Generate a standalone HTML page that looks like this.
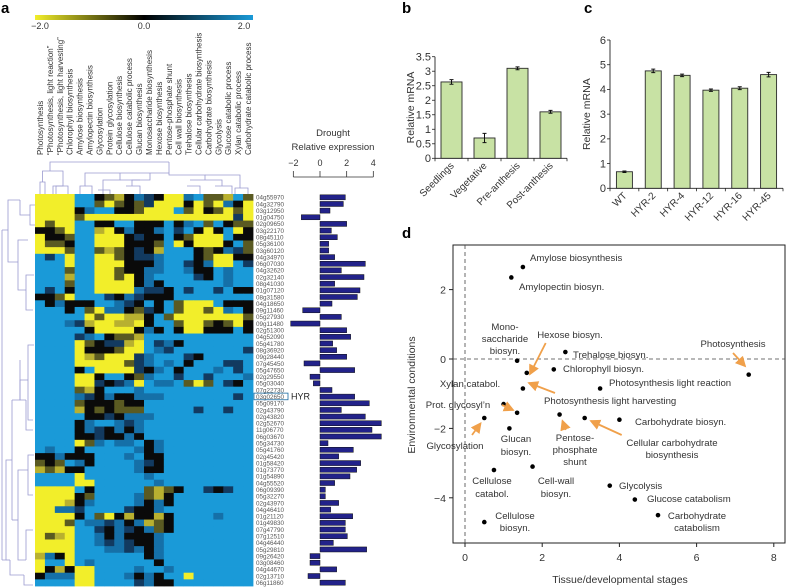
<!DOCTYPE html>
<html><head><meta charset="utf-8">
<style>
html,body{margin:0;padding:0;background:#fff;}
svg{display:block;font-family:"Liberation Sans",sans-serif;}
</style></head>
<body>
<svg id="fig" width="788" height="588" viewBox="0 0 788 588" xmlns="http://www.w3.org/2000/svg">
<defs>
<linearGradient id="cb" x1="0" x2="1" y1="0" y2="0">
<stop offset="0" stop-color="#f2ee2a"/><stop offset="0.5" stop-color="#000"/><stop offset="1" stop-color="#1a9ad8"/>
</linearGradient>
<marker id="ah" markerWidth="6" markerHeight="6" refX="5" refY="3" orient="auto"><path d="M0,0 L6,3 L0,6 z" fill="#f0a04a"/></marker>
</defs>
<g font-weight="bold" font-size="15" fill="#000">
<text x="1" y="13">a</text>
<text x="402" y="13">b</text>
<text x="584" y="13">c</text>
<text x="402" y="238">d</text>
</g>
<g>
<rect x="35" y="15" width="218" height="5" fill="url(#cb)"/>
<g font-size="9" fill="#333" text-anchor="middle">
<text x="40" y="29">−2.0</text>
<text x="144" y="29">0.0</text>
<text x="244" y="29">2.0</text>
</g></g>
<g id="heat"></g>
<g id="dendro" stroke="#9a9ad0" stroke-width="0.8" fill="none"></g>
<g id="drought"></g>
<g id="pb"></g>
<g id="pc"></g>
<g id="pd"></g>
</svg>
<script>
const NS="http://www.w3.org/2000/svg";
function mk(tag,attrs,parent,txt){const e=document.createElementNS(NS,tag);for(const k in attrs)e.setAttribute(k,attrs[k]);if(txt!==undefined)e.textContent=txt;parent.appendChild(e);return e;}

// ---------- Panel a data ----------
const heatColumns=["Photosynthesis","\u201cPhotosynthesis, light reaction\u201d","\u201cPhotosynthesis, light harvesting\u201d","Chlorophyll biosynthesis","Amylose biosynthesis","Amylopectin biosynthesis","Glycosylation","Protein glycosylation","Cellulose biosynthesis","Cellulose catabolic process","Glucan biosynthesis","Monosaccharide biosynthesis","Hexose biosynthesis","Pentose-phosphate shunt","Cell wall biosynthesis","Trehalose biosynthesis","Cellular carbohydrate biosynthesis","Carbohydrate biosynthesis","Glycolysis","Glucose catabolic process","Xylan catabolic process","Carbohydrate catabolic process"];
const heatGenes=["04g55970","04g32790","03g12950","01g04750","02g09650","03g22170","08g45110","05g36100","03g60120","04g34970","06g07030","04g32620","02g32140","08g41030","01g07120","08g31580","04g18650","09g11460","05g27930","09g11480","02g51300","04g52090","05g41780","08g36920","09g28440","07g45450","05g47650","02g29550","05g03040","07g22730","03g02650","05g09170","02g43790","02g43820","02g52670","11g06770","06g03670","05g34730","05g41760","02g45420","01g58420","01g73770","01g54890","04g55520","06g09390","05g32270","02g43970","04g46410","01g21120","01g49830","07g47790","07g12510","04g46440","05g29810","09g26420","03g08460","04g44670","02g13710","06g11860"];
const heatRows=["YYYYBBkoykbnkYYbBooyBo","YYYYBBoYokonYYYkYoYbkY","YYYYkbBBkkoYYYBoYkoYoY","YYYYoYYYYYYYYYYYYYYYnY","YoYYBBkkBBkkkBkbBoBkoo","kkoYBByYkbkkbBnBkYkBYk","YkkoBBYYYknkkBkoYYYBkk","YookBBYYYkkkoBYkYYYkBo","YYYoBBoyoknkyBBBkokbno","BnBYBBYYoknnbBBBkoYYkk","BBBYBBYYYkkkbBBnkbYYBn","BBBoBBYYokkbbBBbkkBbBB","BBByBBYYoYkbBBBBnkBbBB","BBBoBBYYYYkbkBBBBBBbBB","BnBkBBYYYYbnnkBnBBnBkk","kkoYBBBnkbnkkkBBBBBBBB","BkbkkkBBbnkBkBoYYYBkkk","BBBkBoYbbkonkBoYYoYbBk","BBBBBYoYYyykBoYYYYYYYo","BBBbnyYYyyYkBBoYYokoYk","BBBBBkYYYYkbkBkYYkkkBk","BBBBnbBkooyBBBBBBBBBBB","BBBBYoknnyYBnbkBBBBBBB","BBBBYkkkoYYBbnBBBBBBBn","BBBBYyoYYYnbBBBnkBBBBB","BBBBYYYYYonbBbBkBBBnnB","BBBBkBYYYYnkbBkBBBbBnB","BBBBYYkBBkobBBnBBnBBBb","BBBBYYnknbYBbbBoYoBnkB","BBBBoykBBBbBBBBBBBBBBB","BBBBbnkbkkbbbBBBBBBBnB","BBBBokkkokkBBBBBBBBBBB","BBBBykokoooBBBBBnBBnBB","BBBBBkknkbbbBBBBBBBBBB","BBBBkbBBbnbBBBBBBBBBBB","BBBBkbnkbkbBBBBBBBBBBB","BBBBkknkkbkBBBBBBBBBBB","BBBBYobBbbBkbBBBBBBBBB","BbBBkBBBBBbkbBBBBBBBBB","kkbkkkBBBbBkkBBBBBBBBB","okoBbkBBBBbnkBBBBBBBBB","yoykkBBBBBbkkBBBBBBBBB","BBBBYBBBBBBbBBBBBBBBBB","BBBBYYBBBBBBbBBBBBBBBB","YYYYBkBBBBBoyokBBnknBB","YYYYkoBBBBboykBBBBBBBB","YYYykbBBBBbkbkBBBBBBBB","YYbbnBBBBnkkbBBBBBBBBB","YYYYkBoYkykkykBBBBbBBB","YYYoBbbnbkbyokBBBBBBBB","YYYYBBnkbnkbokBBBBBBBB","YoyYBBbkbkkkbBBBBBBBBB","YYYYBBbnbnkkbBBBBBBBBB","YYYYBBBbbnbkbBBBBBBBBB","ybkYBBBBBBBkbBBBBBBBBB","YBBYBbBBBBBBkBBBBBBBBB","YkykYYBBBBbBBbBBBBBBBB","kbbbYYBBBbkbkBBYBBBBBB","BBBBYYBBBBnbkkBBBBBBBB"];
const droughtValues=[1.9,1.75,0.75,-1.4,2.0,0.85,1.3,0.65,0.65,1.1,3.4,1.6,3.3,1.1,3.0,2.8,0.9,-1.3,1.6,-2.2,2.0,2.3,0.95,1.25,2.0,-1.2,2.6,-0.75,-0.5,0.9,2.6,3.7,1.6,3.4,4.6,3.9,4.6,0.6,2.5,1.4,3.05,2.75,2.25,1.1,0.4,0.4,1.4,0.8,2.45,1.9,1.9,2.05,1.0,3.5,-0.75,-0.75,1.25,-0.9,1.9];
const droughtTicks=[-2,0,2,4];
const colorMap={Y:"#f2ee2a",y:"#b8b030",o:"#5a5a22",k:"#0a0a0a",n:"#123a60",b:"#1570a8",B:"#1a9ad8"};

// ---------- Panel b/c/d data ----------
const bCats=["Seedlings","Vegetative","Pre-anthesis","Post-anthesis"];
const bVals=[2.63,0.70,3.10,1.60];
const bErr=[0.08,0.16,0.05,0.05];
const bTicks=[0,0.5,1,1.5,2,2.5,3,3.5];
const bTickLabels=["0","0.5","1","1.5","2","2.5","3","3.5"];
const cCats=["WT","HYR-2","HYR-4","HYR-12","HYR-16","HYR-45"];
const cVals=[0.67,4.75,4.57,3.97,4.05,4.60];
const cErr=[0.03,0.07,0.05,0.05,0.06,0.09];
const cTicks=[0,1,2,3,4,5,6];
const dX=[1.5,1.2,1.35,1.6,2.6,2.3,3.5,7.35,1.5,1.0,1.35,0.5,1.15,2.45,3.1,4.0,0.75,1.75,3.75,4.4,5.0,0.5];
const dY=[2.65,2.35,-0.05,-0.4,0.2,-0.3,-0.85,-0.45,-0.85,-1.3,-1.55,-1.7,-2.0,-1.6,-1.7,-1.75,-3.2,-3.1,-3.65,-4.05,-4.5,-4.7];
const dXTicks=[0,2,4,6,8];
const dYTicks=[2,0,-2,-4];

// ---------- Heatmap ----------
const heat=document.getElementById('heat');
const hx0=35,hy0=194,cw=218/22,rh=392/59;
heatRows.forEach((row,r)=>{
  [...row].forEach((ch,c)=>{
    const cell=mk('rect',{x:(hx0+c*cw).toFixed(2),y:(hy0+r*rh).toFixed(2),width:(cw+0.4).toFixed(2),height:(rh+0.4).toFixed(2),fill:colorMap[ch]},heat);
    
    
  });
  const t=mk('text',{x:256,y:(hy0+r*rh+rh*0.85).toFixed(2),'font-size':6.3,fill:'#555'},heat,heatGenes[r]);
  
  
});
heatColumns.forEach((name,c)=>{
  const x=hx0+c*cw+cw/2+3;
  const t=mk('text',{x:x,y:155,'font-size':8,fill:'#333','text-anchor':'start',transform:`rotate(-90 ${x} 155)`},heat,name);
  
  
});
{const r=30;
const bx=mk('rect',{x:254,y:(hy0+r*rh-0.2).toFixed(2),width:34,height:rh.toFixed(2),fill:'none',stroke:'#1a6aa0','stroke-width':0.8},heat);


const ht=mk('text',{x:291,y:(hy0+r*rh+rh-0.5).toFixed(2),'font-size':9,fill:'#222'},heat,'HYR');

}

// ---------- Dendrograms (approximate) ----------
const dg=document.getElementById('dendro');
const topD=["M40,194V182H45V194","M42.5,182V171H63V186H56V194","M53,194V186H68V194","M50,171V162H169","M169,162V173H85V186H80V194","M85,186H92V194","M120,173V180H103V190","M103,190V194M98,190H110V194","M150,173V180H132V186","M126,186H140V194","M120,180H140","M169,173V175H205V180","M190,180H222V186","M187,186H200V194","M215,186H232V194","M205,175H240V188H235V194","M240,188H248V194"];
topD.forEach(d=>{const p=mk('path',{d:d},dg);});
const leftD=["M2,230V560","M2,230H8V200H20","M8,230V262H18","M2,560H6V460H12","M6,560V560H10","M12,400V520","M12,400H20V380H28","M12,520H18","M18,490V560H26","M10,560V575H24","M20,360V400H26","M20,200V215H30","M18,262V240H28","M18,262V290H26","M26,290V275H34","M26,290V310H33","M28,380V345H34","M28,380V420H33","M26,400V430H33","M18,490V470H28","M26,560V530H33","M24,575V585H33","M28,470V455H34","M28,470V495H33","M30,215V205H35","M30,215V225H35"];
leftD.forEach(d=>{const p=mk('path',{d:d},dg);});

// ---------- Drought bars ----------
const dr=document.getElementById('drought');
const dsx=v=>320+v*13.33;
{const tt=mk('text',{x:333,y:136,'font-size':9.5,fill:'#333','text-anchor':'middle'},dr,'Drought');
const t2=mk('text',{x:333,y:150,'font-size':9.5,fill:'#333','text-anchor':'middle'},dr,'Relative expression');
const ax=mk('line',{x1:dsx(-2),x2:dsx(4),y1:177,y2:177,stroke:'#333','stroke-width':0.8},dr);}
droughtTicks.forEach(v=>{
  const l=mk('line',{x1:dsx(v),x2:dsx(v),y1:171,y2:177,stroke:'#333','stroke-width':0.8},dr);
  
  const t=mk('text',{x:dsx(v),y:166,'font-size':9,fill:'#333','text-anchor':'middle'},dr,v<0?'−'+Math.abs(v):String(v));
  
});
droughtValues.forEach((v,r)=>{
  const x1=Math.min(dsx(0),dsx(v)),w=Math.abs(dsx(v)-dsx(0));
  const b=mk('rect',{x:x1,y:(hy0+r*rh+0.8).toFixed(2),width:w.toFixed(2),height:(rh-1.6).toFixed(2),fill:'#22228a',stroke:'#111','stroke-width':0.5},dr);
  
});

// ---------- Bar chart helper ----------
function barChart(gid,cats,vals,errs,ticks,tickLabels,ymax,x0,x1,y0,yTop,bw,labelX){
  const g=document.getElementById(gid);
  const sy=v=>y0-(v/ymax)*(y0-yTop);
  const ya=mk('line',{x1:x0,x2:x0,y1:sy(ymax),y2:y0,stroke:'#222','stroke-width':0.9},g);
  const xa=mk('line',{x1:x0,x2:x1,y1:y0,y2:y0,stroke:'#222','stroke-width':0.9},g);
  ticks.forEach((v,i)=>{
    const l=mk('line',{x1:x0-3,x2:x0,y1:sy(v),y2:sy(v),stroke:'#222','stroke-width':0.8},g);
    const t=mk('text',{x:x0-4,y:sy(v)+3.8,'font-size':11,fill:'#333','text-anchor':'end'},g,tickLabels[i]);
  });
  const n=cats.length, step=(x1-x0)/n;
  for(let i=0;i<=n;i++){const l=mk('line',{x1:x0+i*step,x2:x0+i*step,y1:y0,y2:y0+3,stroke:'#222','stroke-width':0.8},g);}
  cats.forEach((c,i)=>{
    const cx=x0+step*(i+0.5);
    const b=mk('rect',{x:cx-bw/2,y:sy(vals[i]),width:bw,height:y0-sy(vals[i]),fill:'#c8e2a4',stroke:'#2a2a2a','stroke-width':0.9},g);
    
    const e1=sy(vals[i]+errs[i]),e2=sy(vals[i]-errs[i]);
    const e=mk('path',{d:`M${cx},${e1}V${e2}M${cx-2},${e1}H${cx+2}M${cx-2},${e2}H${cx+2}`,stroke:'#111','stroke-width':1,fill:'none'},g);
    
    const tx=cx+3,ty=y0+8;
    const t=mk('text',{x:tx,y:ty,'font-size':10,fill:'#333','text-anchor':'end',transform:`rotate(-45 ${tx} ${ty})`},g,c);
    
  });
  const yt=mk('text',{x:labelX,y:(y0+yTop)/2,'font-size':10.5,fill:'#333','text-anchor':'middle',transform:`rotate(-90 ${labelX} ${(y0+yTop)/2})`},g,'Relative mRNA');
  
}
barChart('pb',bCats,bVals,bErr,bTicks,bTickLabels,3.5,435,567,158.3,56.7,21,414);
barChart('pc',cCats,cVals,cErr,cTicks,cTicks.map(String),6,610,783,188.3,40,16,590);

// ---------- Panel d ----------
const pd=document.getElementById('pd');
const dxs=v=>465+v*38.6, dys=v=>359-v*34.7;
{const box=mk('rect',{x:453,y:245,width:332,height:298,fill:'none',stroke:'#222','stroke-width':1},pd);
const v0=mk('line',{x1:dxs(0),x2:dxs(0),y1:245,y2:543,stroke:'#444','stroke-width':0.8,'stroke-dasharray':'4,3'},pd);
const h0=mk('line',{x1:453,x2:785,y1:dys(0),y2:dys(0),stroke:'#444','stroke-width':0.8,'stroke-dasharray':'4,3'},pd);}
dXTicks.forEach(v=>{
  const l=mk('line',{x1:dxs(v),x2:dxs(v),y1:543,y2:547,stroke:'#222'},pd);
  const t=mk('text',{x:dxs(v),y:561,'font-size':10.5,fill:'#333','text-anchor':'middle'},pd,String(v));
});
dYTicks.forEach(v=>{
  const l=mk('line',{x1:449,x2:453,y1:dys(v),y2:dys(v),stroke:'#222'},pd);
  const t=mk('text',{x:446,y:dys(v)+4,'font-size':10.5,fill:'#333','text-anchor':'end'},pd,v<0?'−'+Math.abs(v):String(v));
});
{const xt=mk('text',{x:620,y:583,'font-size':10.5,fill:'#333','text-anchor':'middle'},pd,'Tissue/developmental stages');
const yt=mk('text',{x:415,y:395,'font-size':10.5,fill:'#333','text-anchor':'middle',transform:'rotate(-90 415 395)'},pd,'Environmental conditions');}
dX.forEach((x,i)=>{
  const c=mk('circle',{cx:dxs(x),cy:dys(dY[i]),r:2.3,fill:'#000'},pd);
  
});
const arrows=[[545.7,343,530,374],[555,393,529,383],[502,405,513,410],[472,435,480.5,423.5],[565.7,430,562.5,421],[621.7,435,591,421],[733,353,745,366]];
arrows.forEach(a=>{
  const l=mk('line',{x1:a[0],y1:a[1],x2:a[2],y2:a[3],stroke:'#f0a04a','stroke-width':1.8,'marker-end':'url(#ah)'},pd);
  
});
const labs=[["Amylose biosynthesis",530,261,"start"],["Amylopectin biosyn.",519,290,"start"],["Mono-",505,330,"middle"],["saccharide",505,342,"middle"],["biosyn.",505,354,"middle"],["Hexose biosyn.",570,338,"middle"],["Trehalose biosyn.",573,358,"start"],["Chlorophyll biosyn.",563,372,"start"],["Photosynthesis light reaction",609,386,"start"],["Photosynthesis",733,347,"middle"],["Xylan catabol.",470,387,"middle"],["Photosynthesis light harvesting",544,404,"start"],["Prot. glycosyl\u2019n",458,408,"middle"],["Carbohydrate biosyn.",635,425,"start"],["Glycosylation",455,449,"middle"],["Glucan",516,442,"middle"],["biosyn.",516,455,"middle"],["Pentose-",575,441,"middle"],["phosphate",575,453,"middle"],["shunt",575,465,"middle"],["Cellular carbohydrate",672,446,"middle"],["biosynthesis",672,458,"middle"],["Cellulose",492,484,"middle"],["catabol.",492,497,"middle"],["Cell-wall",556,484,"middle"],["biosyn.",556,497,"middle"],["Glycolysis",619,489,"start"],["Glucose catabolism",647,502,"start"],["Carbohydrate",697,519,"middle"],["catabolism",697,531,"middle"],["Cellulose",515,519,"middle"],["biosyn.",515,531,"middle"]];
labs.forEach(l=>{
  const t=mk('text',{x:l[1],y:l[2],'font-size':9.6,fill:'#333','text-anchor':l[3]},pd,l[0]);
  
});
</script>
</body></html>
